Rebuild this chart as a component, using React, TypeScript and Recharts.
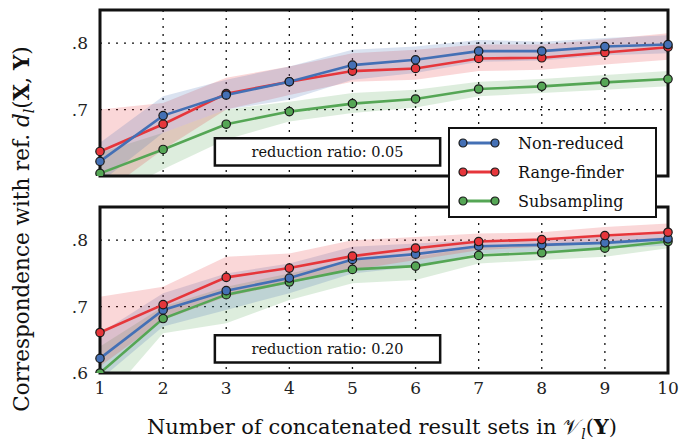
import React from 'react';
import {
  ComposedChart, Line, Area, XAxis, YAxis, CartesianGrid, ReferenceArea,
} from 'recharts';

const SETS = [1, 2, 3, 4, 5, 6, 7, 8, 9, 10];
const Y_TICKS = [0.6, 0.7, 0.8];

// reduction ratio 0.05
const nonReduced05 = [0.622, 0.691, 0.722, 0.742, 0.767, 0.775, 0.788, 0.788, 0.795, 0.798];
const nonReducedLo05 = [0.59, 0.665, 0.70, 0.715, 0.745, 0.755, 0.772, 0.774, 0.782, 0.785];
const nonReducedHi05 = [0.65, 0.72, 0.745, 0.765, 0.79, 0.795, 0.805, 0.802, 0.808, 0.812];
const rangeFinder05 = [0.637, 0.678, 0.724, 0.742, 0.758, 0.762, 0.777, 0.778, 0.786, 0.794];
const rangeFinderLo05 = [0.57, 0.64, 0.70, 0.722, 0.742, 0.745, 0.758, 0.76, 0.768, 0.775];
const rangeFinderHi05 = [0.70, 0.71, 0.748, 0.765, 0.785, 0.79, 0.798, 0.798, 0.806, 0.815];
const subsampling05 = [0.604, 0.640, 0.678, 0.697, 0.709, 0.716, 0.731, 0.735, 0.741, 0.746];
const subsamplingLo05 = [0.56, 0.61, 0.655, 0.682, 0.695, 0.703, 0.72, 0.725, 0.73, 0.735];
const subsamplingHi05 = [0.635, 0.665, 0.70, 0.712, 0.725, 0.73, 0.742, 0.746, 0.752, 0.758];

// reduction ratio 0.20
const nonReduced20 = [0.622, 0.695, 0.724, 0.743, 0.771, 0.779, 0.791, 0.793, 0.796, 0.802];
const nonReducedLo20 = [0.59, 0.67, 0.695, 0.72, 0.75, 0.76, 0.78, 0.783, 0.787, 0.792];
const nonReducedHi20 = [0.66, 0.72, 0.75, 0.765, 0.79, 0.795, 0.80, 0.802, 0.805, 0.81];
const rangeFinder20 = [0.661, 0.703, 0.744, 0.758, 0.776, 0.788, 0.798, 0.801, 0.807, 0.812];
const rangeFinderLo20 = [0.61, 0.68, 0.715, 0.735, 0.755, 0.77, 0.785, 0.79, 0.795, 0.80];
const rangeFinderHi20 = [0.715, 0.73, 0.775, 0.78, 0.80, 0.805, 0.81, 0.812, 0.82, 0.825];
const subsampling20 = [0.600, 0.682, 0.718, 0.737, 0.756, 0.761, 0.777, 0.781, 0.788, 0.798];
const subsamplingLo20 = [0.55, 0.66, 0.675, 0.71, 0.735, 0.74, 0.765, 0.77, 0.775, 0.788];
const subsamplingHi20 = [0.64, 0.70, 0.73, 0.75, 0.77, 0.775, 0.79, 0.792, 0.798, 0.805];

const BLUE = '#4470b5';
const RED = '#e6363b';
const GREEN = '#55a655';
const FONT = "'DejaVu Serif', 'Liberation Serif', 'Noto Serif', serif";

const SERIES = [
  { key: 'nr', name: 'Non-reduced', color: BLUE },
  { key: 'rf', name: 'Range-finder', color: RED },
  { key: 'ss', name: 'Subsampling', color: GREEN },
];

function buildRows(
  nr: number[], nrLo: number[], nrHi: number[],
  rf: number[], rfLo: number[], rfHi: number[],
  ss: number[], ssLo: number[], ssHi: number[],
) {
  return SETS.map((x, i) => ({
    x,
    nr: nr[i], nrBand: [nrLo[i], nrHi[i]],
    rf: rf[i], rfBand: [rfLo[i], rfHi[i]],
    ss: ss[i], ssBand: [ssLo[i], ssHi[i]],
  }));
}

const rows05 = buildRows(
  nonReduced05, nonReducedLo05, nonReducedHi05,
  rangeFinder05, rangeFinderLo05, rangeFinderHi05,
  subsampling05, subsamplingLo05, subsamplingHi05,
);
const rows20 = buildRows(
  nonReduced20, nonReducedLo20, nonReducedHi20,
  rangeFinder20, rangeFinderLo20, rangeFinderHi20,
  subsampling20, subsamplingLo20, subsamplingHi20,
);

const tickStyle = { fill: '#222', fontSize: 17, fontFamily: FONT };

function Panel({ data, ratio, showX, drawOrder }: {
  data: any[]; ratio: string; showX: boolean; drawOrder: string[];
}) {
  const height = showX ? 220 : 180;
  const margin = showX
    ? { top: 17, right: 14, left: 0, bottom: 7 }
    : { top: 10, right: 14, left: 0, bottom: 4 };
  const ordered = drawOrder.map((k) => SERIES.find((s) => s.key === k)!);
  return (
    <ComposedChart width={682} height={height} data={data} margin={margin} style={{ fontFamily: FONT }}>
      <CartesianGrid stroke="#111" strokeDasharray="2 6" strokeWidth={1.3} />
      <XAxis
        dataKey="x" type="number" domain={[1, 10]} ticks={SETS}
        hide={!showX} height={30} axisLine={false} tickLine={false}
        tickSize={0} tickMargin={9} tick={tickStyle}
      />
      <YAxis
        type="number" domain={[0.6, 0.85]} ticks={Y_TICKS} allowDataOverflow
        width={100} axisLine={false} tickLine={false} tickSize={0} tickMargin={12}
        tick={tickStyle} tickFormatter={(v: number) => v.toFixed(1).replace('0.', '.')}
      />
      {ordered.map((s) => (
        <Area
          key={s.key + 'band'} dataKey={s.key + 'Band'} type="linear"
          stroke="none" fill={s.color} fillOpacity={0.2}
          isAnimationActive={false} activeDot={false}
        />
      ))}
      {ordered.map((s) => (
        <Line
          key={s.key} dataKey={s.key} type="linear" stroke={s.color} strokeWidth={2.6}
          dot={{ r: 4.2, fill: s.color, stroke: '#1a1a1a', strokeWidth: 1.2 }}
          activeDot={false} isAnimationActive={false}
        />
      ))}
      <ReferenceArea
        x1={2.82} x2={6.39} y1={0.616} y2={0.657}
        fill="#fff" fillOpacity={1} stroke="#111" strokeWidth={2.5}
        label={{ value: `reduction ratio: ${ratio}`, position: 'center', fill: '#111', fontSize: 14.5, fontFamily: FONT }}
      />
      <ReferenceArea
        x1={1} x2={10} y1={0.6} y2={0.85}
        fill="none" stroke="#111" strokeWidth={3}
      />
    </ComposedChart>
  );
}

function LegendBox() {
  return (
    <div style={{
      position: 'absolute', left: 448, top: 127, width: 205, height: 87,
      background: '#fff', border: '2.5px solid #111', fontFamily: FONT, fontSize: 16,
      color: '#111', zIndex: 5,
    }}>
      {SERIES.map((s, i) => (
        <div key={s.key} style={{ position: 'absolute', left: 8, top: 2 + i * 29, height: 24, display: 'flex', alignItems: 'center' }}>
          <svg width={42} height={12}>
            <line x1={5} y1={6} x2={37} y2={6} stroke={s.color} strokeWidth={3} />
            <circle cx={5} cy={6} r={4} fill={s.color} stroke="#1a1a1a" strokeWidth={1.2} />
            <circle cx={37} cy={6} r={4} fill={s.color} stroke="#1a1a1a" strokeWidth={1.2} />
          </svg>
          <span style={{ marginLeft: 18 }}>{s.name}</span>
        </div>
      ))}
    </div>
  );
}

export default function App() {
  return (
    <div style={{ position: 'absolute', left: 0, top: 0, width: 682, height: 444, background: '#fff', fontFamily: FONT }}>
      <div style={{ position: 'absolute', left: 0, top: 0 }}>
        <Panel data={rows05} ratio="0.05" showX={false} drawOrder={['ss', 'rf', 'nr']} />
      </div>
      <div style={{ position: 'absolute', left: 0, top: 190 }}>
        <Panel data={rows20} ratio="0.20" showX drawOrder={['ss', 'nr', 'rf']} />
      </div>
      <LegendBox />
      <div style={{
        position: 'absolute', left: 23, top: 229, transform: 'translate(-50%, -50%) rotate(-90deg)',
        whiteSpace: 'nowrap', fontSize: 21.5, color: '#111',
      }}>
        Correspondence with ref. <i>d</i><sub style={{ fontSize: 14 }}><i>l</i></sub>(<b>X</b>, <b>Y</b>)
      </div>
      <div style={{
        position: 'absolute', left: 382, top: 428, transform: 'translate(-50%, -50%)',
        whiteSpace: 'nowrap', fontSize: 21, color: '#111',
      }}>
        Number of concatenated result sets in 𝒱<sub style={{ fontSize: 14 }}><i>l</i></sub>(<b>Y</b>)
      </div>
    </div>
  );
}
